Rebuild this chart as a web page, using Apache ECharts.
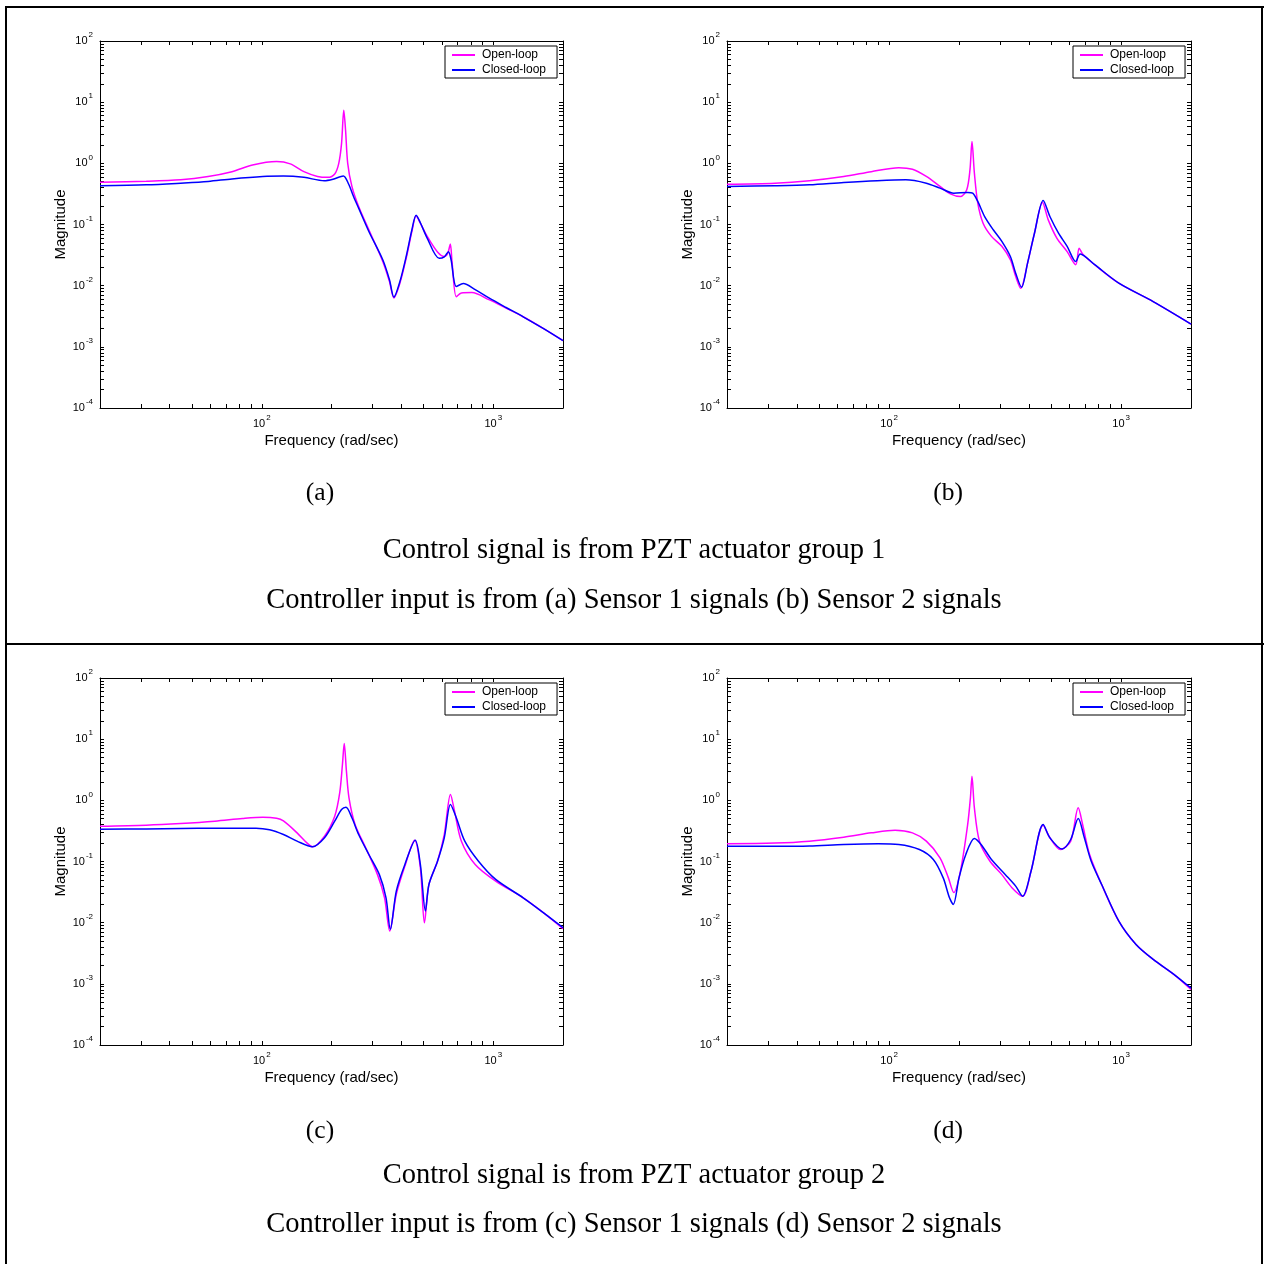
<!DOCTYPE html>
<html>
<head>
<meta charset="utf-8">
<script src="https://cdn.jsdelivr.net/npm/echarts@6/dist/echarts.min.js"></script>
<style>
html,body{margin:0;padding:0;background:#fff;}
#chart{width:1270px;height:1264px;}
</style>
</head>
<body>
<div id="chart"></div>
<script>
// ---- tick values / labels ----
const xTickValues = [20,30,40,50,60,70,80,90,100,200,300,400,500,600,700,800,900,1000,2000];
const xLabelValues = [100,1000];
const yTickValues = [0.0001,0.0002,0.0003,0.0004,0.0005,0.0006,0.0007,0.0008,0.0009,
  0.001,0.002,0.003,0.004,0.005,0.006,0.007,0.008,0.009,
  0.01,0.02,0.03,0.04,0.05,0.06,0.07,0.08,0.09,
  0.1,0.2,0.3,0.4,0.5,0.6,0.7,0.8,0.9,
  1,2,3,4,5,6,7,8,9,
  10,20,30,40,50,60,70,80,90,100];
const yLabelValues = [0.0001,0.001,0.01,0.1,1,10,100];
const seriesNames = ['Open-loop','Closed-loop'];
const panelLabels = ['(a)','(b)','(c)','(d)'];
const captionTop1 = 'Control signal is from PZT actuator group 1';
const captionTop2 = 'Controller input is from (a) Sensor 1 signals (b) Sensor 2 signals';
const captionBot1 = 'Control signal is from PZT actuator group 2';
const captionBot2 = 'Controller input is from (c) Sensor 1 signals (d) Sensor 2 signals';

// ---- data: [frequency (rad/sec), magnitude] ----
const openA = [[20,0.49],[31.7,0.51],[44.6,0.54],[58.6,0.61],[74.3,0.73],[91.2,0.94],[115.8,1.07],[132.7,0.98],[152,0.73],[174,0.61],[193,0.59],[206.5,0.67],[215,1.0],[221,2.1],[226,7.4],[230,3.5],[235,1.0],[245,0.42],[262,0.197],[290,0.082],[333,0.0249],[356,0.0117],[372,0.0063],[395,0.011],[422,0.030],[445,0.077],[464,0.139],[484,0.105],[518,0.064],[574,0.0355],[614,0.030],[636,0.034],[652,0.048],[664,0.0234],[692,0.0066],[728,0.0076],[808,0.0077],[957,0.0059],[1135,0.0043],[1346,0.0031],[1649,0.00198],[2000,0.00126]];
const closedA = [[20,0.43],[31.7,0.445],[44.6,0.474],[58.6,0.505],[74.3,0.557],[101,0.61],[124,0.62],[152,0.59],[186,0.52],[203,0.55],[225,0.62],[237,0.46],[249,0.287],[262,0.185],[290,0.077],[333,0.0265],[356,0.0125],[372,0.0065],[395,0.0117],[422,0.032],[445,0.082],[464,0.142],[484,0.107],[518,0.060],[584,0.028],[614,0.0295],[640,0.036],[657,0.0265],[692,0.0097],[742,0.0108],[835,0.0086],[957,0.0063],[1135,0.0044],[1346,0.0031],[1649,0.00198],[2000,0.00126]];
const openB = [[20,0.456],[32.2,0.474],[45.3,0.52],[63.7,0.61],[83.7,0.73],[110,0.85],[126,0.80],[144.6,0.61],[165.6,0.42],[183.5,0.317],[203,0.287],[216,0.37],[223,0.78],[227.5,2.27],[233,0.69],[241,0.223],[254,0.105],[276,0.064],[306,0.044],[333,0.0265],[351,0.0142],[369,0.0091],[395,0.0234],[423,0.072],[458,0.229],[485,0.119],[528,0.060],[585,0.036],[637,0.022],[659,0.041],[682,0.033],[769,0.022],[977,0.011],[1374,0.0055],[2000,0.00236]];
const closedB = [[20,0.42],[32.2,0.43],[45.3,0.445],[63.7,0.486],[88.8,0.52],[118,0.537],[144.6,0.474],[165.6,0.393],[190,0.325],[218,0.335],[229,0.325],[241,0.238],[258,0.135],[281,0.082],[306,0.053],[333,0.030],[351,0.016],[372,0.0094],[395,0.0234],[423,0.072],[461,0.247],[493,0.135],[537,0.072],[585,0.044],[637,0.0249],[666,0.033],[769,0.022],[977,0.011],[1374,0.0055],[2000,0.00236]];
const openC = [[20,0.378],[31.7,0.393],[44.6,0.418],[62.7,0.456],[82.5,0.505],[101,0.53],[115.8,0.51],[124,0.46],[142,0.294],[157,0.2],[165.6,0.174],[186.6,0.26],[206.5,0.55],[217,1.32],[223,3.85],[227,8.5],[232,3.0],[238,1.1],[253,0.40],[281,0.168],[316,0.061],[339,0.0255],[357,0.0073],[381,0.029],[415,0.084],[457,0.223],[484,0.079],[504,0.01],[527,0.042],[574,0.101],[614,0.276],[653,1.25],[680,0.665],[728,0.215],[835,0.0895],[1024,0.0478],[1346,0.0255],[1649,0.0145],[2000,0.0080]];
const closedC = [[20,0.338],[31.7,0.34],[44.6,0.347],[62.7,0.35],[94.4,0.35],[108,0.33],[124,0.276],[142,0.215],[165.6,0.174],[186.6,0.244],[206.5,0.456],[221,0.708],[231,0.773],[245,0.518],[262,0.276],[290,0.130],[322,0.061],[344,0.0255],[359,0.0078],[381,0.0328],[415,0.0895],[460,0.223],[484,0.0895],[509,0.0155],[527,0.042],[574,0.101],[614,0.244],[653,0.853],[692,0.518],[753,0.215],[863,0.101],[1024,0.0509],[1346,0.0255],[1649,0.0145],[2000,0.0083]];
const openD = [[20,0.195],[32.2,0.2],[45.3,0.215],[63.7,0.25],[83.7,0.294],[106,0.325],[126,0.294],[144.6,0.215],[165.6,0.115],[180,0.054],[190,0.031],[203,0.070],[218,0.403],[224,1.1],[227.5,2.48],[233,0.753],[245,0.215],[272,0.101],[306,0.061],[339,0.037],[376,0.027],[409,0.070],[461,0.393],[493,0.244],[547,0.157],[606,0.215],[653,0.753],[682,0.403],[731,0.130],[824,0.042],[977,0.0106],[1159,0.0044],[1374,0.00251],[1687,0.00143],[2000,0.00081]];
const closedD = [[20,0.178],[32.2,0.178],[45.3,0.18],[63.7,0.19],[89.7,0.195],[110,0.19],[135,0.157],[155,0.108],[171,0.054],[182,0.0255],[189,0.0199],[200,0.054],[214,0.130],[233,0.238],[249,0.19],[276,0.108],[317,0.061],[351,0.0396],[376,0.027],[409,0.070],[461,0.403],[493,0.244],[556,0.16],[606,0.229],[653,0.505],[694,0.244],[743,0.101],[824,0.042],[977,0.0106],[1159,0.0044],[1374,0.00251],[1687,0.00143],[2000,0.00085]];

const panels = [
  {open: openA, closed: closedA},
  {open: openB, closed: closedB},
  {open: openC, closed: closedC},
  {open: openD, closed: closedD}
];

// ---- layout ----
const gridBoxes = [
  {left:100, top:41, width:463, height:367},
  {left:727, top:41, width:464, height:367},
  {left:100, top:678, width:463, height:367},
  {left:727, top:678, width:464, height:367}
];
const SANS = '"Liberation Sans", Arial, sans-serif';
const SERIF = '"Liberation Serif", "Times New Roman", serif';
const OPEN_COLOR = '#ff00ff';
const CLOSED_COLOR = '#0000ff';

function expLabel(v){
  return '{b|10}{s|' + Math.round(Math.log10(v)) + '}';
}
const labelRich = {
  b: {fontSize: 11, fontFamily: SANS, color: '#000'},
  s: {fontSize: 8, fontFamily: SANS, color: '#000', padding: [0, 0, 12, 1]}
};

const grids = [], xAxes = [], yAxes = [], series = [], legends = [];
gridBoxes.forEach((g, i) => {
  grids.push(Object.assign({containLabel:false, show:false}, g));
  const common = {gridIndex: i, type: 'log', logBase: 10, splitLine: {show:false}, minorTick:{show:false}};
  xAxes.push(Object.assign({}, common, {
    position: 'bottom', min: 20, max: 2000,
    axisLine: {show:true, onZero:false, lineStyle:{color:'#000', width:1}},
    axisTick: {show:true, inside:true, length:4, customValues: xTickValues, lineStyle:{color:'#000', width:1}},
    axisLabel: {show:true, customValues: xLabelValues, margin: 6, formatter: expLabel, rich: labelRich},
    name: 'Frequency (rad/sec)', nameLocation: 'middle', nameGap: 25,
    nameTextStyle: {fontSize: 15, fontFamily: SANS, color:'#000'}
  }));
  xAxes.push(Object.assign({}, common, {
    position: 'top', min: 20, max: 2000,
    axisLine: {show:true, onZero:false, lineStyle:{color:'#000', width:1}},
    axisTick: {show:true, inside:true, length:4, customValues: xTickValues, lineStyle:{color:'#000', width:1}},
    axisLabel: {show:false}
  }));
  yAxes.push(Object.assign({}, common, {
    position: 'left', min: 0.0001, max: 100,
    axisLine: {show:true, onZero:false, lineStyle:{color:'#000', width:1}},
    axisTick: {show:true, inside:true, length:4, customValues: yTickValues, lineStyle:{color:'#000', width:1}},
    axisLabel: {show:true, customValues: yLabelValues, margin: 7, formatter: expLabel, rich: labelRich},
    name: 'Magnitude', nameLocation: 'middle', nameRotate: 90, nameGap: 32,
    nameTextStyle: {fontSize: 15, fontFamily: SANS, color:'#000'}
  }));
  yAxes.push(Object.assign({}, common, {
    position: 'right', min: 0.0001, max: 100,
    axisLine: {show:true, onZero:false, lineStyle:{color:'#000', width:1}},
    axisTick: {show:true, inside:true, length:4, customValues: yTickValues, lineStyle:{color:'#000', width:1}},
    axisLabel: {show:false}
  }));
  series.push({
    name: seriesNames[0], type: 'line', xAxisIndex: 2*i, yAxisIndex: 2*i,
    data: panels[i].open, showSymbol: false, symbol: 'none', smooth: 0.3,
    lineStyle: {color: OPEN_COLOR, width: 1.5}, itemStyle: {color: OPEN_COLOR}, animation: false, silent: true
  });
  series.push({
    name: seriesNames[1], type: 'line', xAxisIndex: 2*i, yAxisIndex: 2*i,
    data: panels[i].closed, showSymbol: false, symbol: 'none', smooth: 0.3,
    lineStyle: {color: CLOSED_COLOR, width: 1.5}, itemStyle: {color: CLOSED_COLOR}, animation: false, silent: true
  });
  legends.push({
    data: seriesNames.map(n => ({name: n, icon: 'rect'})), orient: 'vertical',
    left: g.left + g.width - 118, top: g.top + 5,
    backgroundColor: '#fff', borderColor: '#000', borderWidth: 1, borderRadius: 0,
    padding: [2, 11, 1, 7], itemGap: 1, itemWidth: 23, itemHeight: 2,
    textStyle: {fontSize: 12, fontFamily: SANS, color: '#000', lineHeight: 14, padding: [0, 0, 0, 2]},
    selectedMode: false
  });
});

const textEl = (t, x, y, size) => ({
  type: 'text', x: x, y: y, silent: true,
  style: {text: t, fontSize: size, fontFamily: SERIF, fill: '#000', align: 'center', verticalAlign: 'middle'}
});
const lineEl = (x1, y1, x2, y2) => ({
  type: 'line', silent: true, shape: {x1, y1, x2, y2}, style: {stroke: '#000', lineWidth: 2}
});

const graphics = [
  lineEl(6, 6, 6, 1264),
  lineEl(5, 7, 1264, 7),
  lineEl(1262, 6, 1262, 1264),
  lineEl(5, 644, 1264, 644),
  textEl(panelLabels[0], 320, 493, 25.5),
  textEl(panelLabels[1], 948, 493, 25.5),
  textEl(captionTop1, 634, 551, 28.5),
  textEl(captionTop2, 634, 601, 28.5),
  textEl(panelLabels[2], 320, 1131, 25.5),
  textEl(panelLabels[3], 948, 1131, 25.5),
  textEl(captionBot1, 634, 1176, 28.5),
  textEl(captionBot2, 634, 1225, 28.5)
];

const chart = echarts.init(document.getElementById('chart'), null, {renderer: 'canvas'});
chart.setOption({
  backgroundColor: '#fff',
  animation: false,
  grid: grids,
  xAxis: xAxes,
  yAxis: yAxes,
  legend: legends,
  series: series,
  graphic: graphics
});
</script>
</body>
</html>
